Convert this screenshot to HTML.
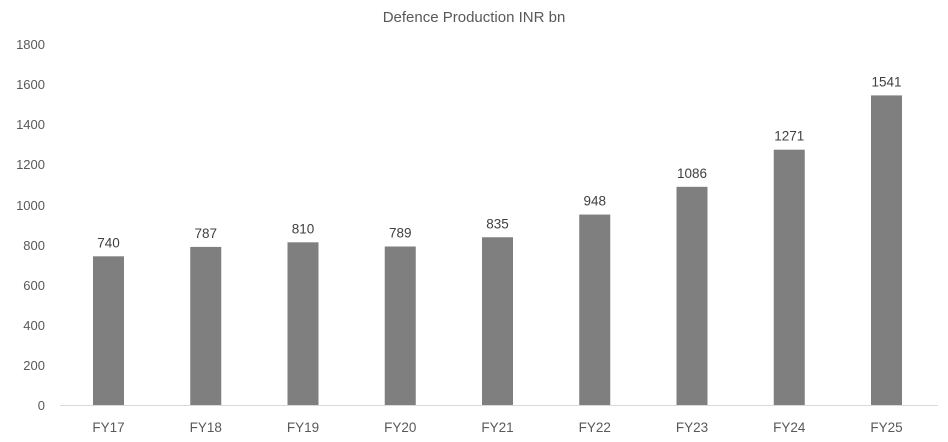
<!DOCTYPE html>
<html><head><style>
body{margin:0;background:#fff;}
svg text{font-family:"Liberation Sans",sans-serif;fill:#595959;}
</style></head><body>
<svg width="948" height="437" xmlns="http://www.w3.org/2000/svg">
<text x="474" y="22" text-anchor="middle" font-size="15">Defence Production INR bn</text>
<g font-size="13" text-anchor="end">
<text x="45" y="410">0</text><text x="45" y="370">200</text><text x="45" y="330">400</text><text x="45" y="290">600</text><text x="45" y="250">800</text><text x="45" y="210">1000</text><text x="45" y="169">1200</text><text x="45" y="129">1400</text><text x="45" y="89">1600</text><text x="45" y="49">1800</text>
</g>
<line x1="60" y1="405.5" x2="938" y2="405.5" stroke="#d9d9d9" stroke-width="1"/>
<g fill="#7f7f7f">
<rect x="93" y="256.3" width="31" height="148.7"/>
<rect x="190.25" y="246.9" width="31" height="158.1"/>
<rect x="287.5" y="242.3" width="31" height="162.7"/>
<rect x="384.75" y="246.5" width="31" height="158.5"/>
<rect x="482" y="237.25" width="31" height="167.75"/>
<rect x="579.25" y="214.55" width="31" height="190.45"/>
<rect x="676.5" y="186.8" width="31" height="218.2"/>
<rect x="773.75" y="149.7" width="31" height="255.3"/>
<rect x="871" y="95.4" width="31" height="309.6"/>
</g>
<g font-size="13.5" text-anchor="middle" style="fill:#404040">
<text x="108.5" y="247.3" style="fill:#404040">740</text>
<text x="205.75" y="237.9" style="fill:#404040">787</text>
<text x="303" y="233.3" style="fill:#404040">810</text>
<text x="400.25" y="237.5" style="fill:#404040">789</text>
<text x="497.5" y="228.25" style="fill:#404040">835</text>
<text x="594.75" y="205.55" style="fill:#404040">948</text>
<text x="692" y="177.8" style="fill:#404040">1086</text>
<text x="789.25" y="140.7" style="fill:#404040">1271</text>
<text x="886.5" y="86.4" style="fill:#404040">1541</text>
</g>
<g font-size="13.5" text-anchor="middle">
<text x="108.5" y="432">FY17</text>
<text x="205.75" y="432">FY18</text>
<text x="303" y="432">FY19</text>
<text x="400.25" y="432">FY20</text>
<text x="497.5" y="432">FY21</text>
<text x="594.75" y="432">FY22</text>
<text x="692" y="432">FY23</text>
<text x="789.25" y="432">FY24</text>
<text x="886.5" y="432">FY25</text>
</g>
</svg>
</body></html>
